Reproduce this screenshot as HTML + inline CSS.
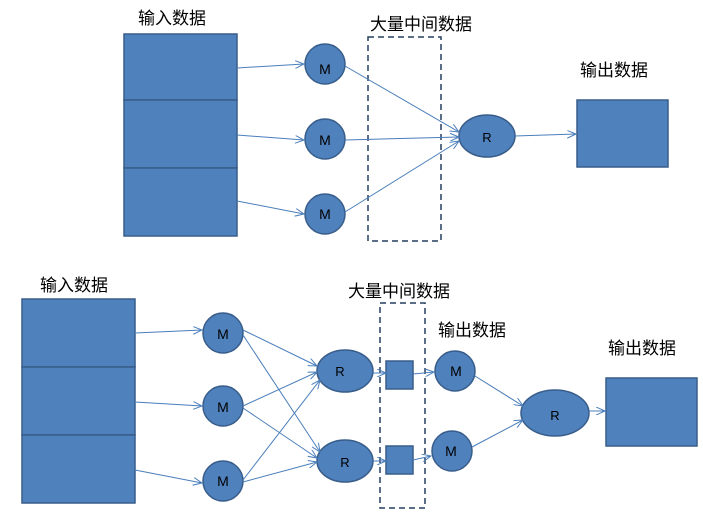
<!DOCTYPE html>
<html><head><meta charset="utf-8"><style>
html,body{margin:0;padding:0;background:#fff;width:703px;height:523px;overflow:hidden}
svg text{font-family:"Liberation Sans","Noto Sans CJK SC",sans-serif;fill:#000}
</style></head><body>
<svg width="703" height="523" viewBox="0 0 703 523" xmlns="http://www.w3.org/2000/svg">
<defs><marker id="a" markerWidth="10" markerHeight="8" refX="9" refY="4" orient="auto" markerUnits="userSpaceOnUse"><path d="M0,0 L9,4 L0,8" fill="none" stroke="#4a7ebb" stroke-width="1"/></marker></defs>
<g fill="#4f81bd" stroke="#385d8a" stroke-width="1.5">
<rect x="124" y="34" width="113" height="66"/><rect x="124" y="100" width="113" height="68"/><rect x="124" y="168" width="113" height="68"/>
<circle cx="325" cy="64" r="20"/><circle cx="325" cy="139" r="20"/><circle cx="325" cy="214" r="20"/>
<ellipse cx="487" cy="136" rx="28" ry="21"/>
<rect x="577" y="100" width="91" height="67"/>
<rect x="22" y="299" width="113" height="68"/><rect x="22" y="367" width="113" height="68"/><rect x="22" y="435" width="113" height="68"/>
<circle cx="223" cy="333" r="20"/><circle cx="223" cy="406" r="20"/><circle cx="223" cy="481" r="20"/>
<ellipse cx="345" cy="371" rx="28" ry="21"/><ellipse cx="345" cy="461" rx="28" ry="21"/>
<rect x="386" y="361" width="27" height="28"/><rect x="386" y="446" width="27" height="28"/>
<circle cx="455" cy="371" r="20"/><circle cx="452" cy="451" r="20"/>
<ellipse cx="555" cy="413" rx="34" ry="23"/>
<rect x="606" y="378" width="91" height="68"/>
</g>
<g fill="none" stroke="#243f60" stroke-width="1.5" stroke-dasharray="6,4">
<rect x="368" y="37" width="73" height="204"/><rect x="380" y="303" width="45" height="205"/>
</g>
<g stroke="#4a7ebb" stroke-width="1" marker-end="url(#a)">
<line x1="237" y1="68" x2="304" y2="64"/><line x1="237" y1="135" x2="304" y2="140"/><line x1="237" y1="201" x2="304" y2="214"/>
<line x1="345" y1="66" x2="459" y2="132"/><line x1="345" y1="140" x2="459" y2="137"/><line x1="345" y1="212" x2="459" y2="141"/>
<line x1="515" y1="136" x2="576" y2="134"/>
<line x1="135" y1="333" x2="202" y2="330"/><line x1="135" y1="402" x2="202" y2="406"/><line x1="135" y1="470" x2="202" y2="483"/>
<line x1="243" y1="330" x2="317" y2="366"/><line x1="243" y1="335" x2="320" y2="452"/>
<line x1="243" y1="406" x2="317" y2="372"/><line x1="243" y1="408" x2="317" y2="458"/>
<line x1="243" y1="480" x2="320" y2="380"/><line x1="243" y1="482" x2="317" y2="462"/>
<line x1="373" y1="373" x2="386" y2="373"/><line x1="373" y1="461" x2="386" y2="461"/>
<line x1="413" y1="374" x2="434" y2="372"/><line x1="413" y1="460" x2="431" y2="456"/>
<line x1="475" y1="376" x2="523" y2="406"/><line x1="472" y1="447" x2="523" y2="420"/>
<line x1="589" y1="411" x2="605" y2="411"/>
</g>
<g font-size="17">
<text x="138" y="24">输入数据</text><text x="370" y="30">大量中间数据</text><text x="580" y="76">输出数据</text>
<text x="40" y="291">输入数据</text><text x="348" y="297">大量中间数据</text><text x="438" y="336">输出数据</text><text x="608" y="354">输出数据</text>
</g>
<g font-size="14" text-anchor="middle">
<text x="325" y="74">M</text><text x="325" y="145">M</text><text x="325" y="219">M</text><text x="487" y="142" font-size="13">R</text>
<text x="223" y="339">M</text><text x="223" y="412">M</text><text x="223" y="486">M</text>
<text x="340" y="376" font-size="13">R</text><text x="345" y="467" font-size="13">R</text>
<text x="456" y="376">M</text><text x="451" y="456">M</text><text x="555" y="420" font-size="13">R</text>
</g>
</svg>
</body></html>
